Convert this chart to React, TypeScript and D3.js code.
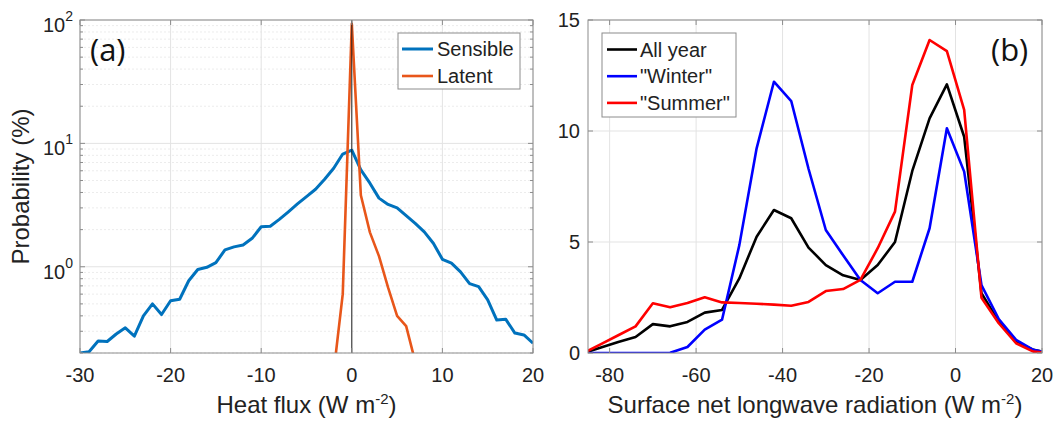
import React from "react";
import * as d3 from "d3";

// panel (a): heat flux probability (log scale)
const sensibleX = [-30, -29, -28, -27, -26, -25, -24, -23, -22, -21, -20, -19, -18, -17, -16, -15, -14, -13, -12, -11, -10, -9, -8, -7, -6, -5, -4, -3, -2, -1, 0, 1, 2, 3, 4, 5, 6, 7, 8, 9, 10, 11, 12, 13, 14, 15, 16, 17, 18, 19, 20];
const sensibleP = [0.2, 0.205, 0.25, 0.248, 0.285, 0.32, 0.274, 0.4, 0.5, 0.41, 0.53, 0.545, 0.77, 0.95, 0.99, 1.08, 1.37, 1.45, 1.5, 1.7, 2.11, 2.13, 2.42, 2.79, 3.23, 3.7, 4.25, 5.12, 6.28, 8.2, 8.8, 6.1, 4.76, 3.6, 3.2, 3.0, 2.6, 2.25, 1.92, 1.55, 1.15, 1.07, 0.91, 0.73, 0.69, 0.54, 0.37, 0.375, 0.29, 0.28, 0.24];
const latentX = [-2, -1, 0, 1, 2, 3, 4, 5, 6, 7];
const latentP = [0.14, 0.6, 93, 3.8, 1.9, 1.22, 0.68, 0.4, 0.33, 0.17];
const fluxTicks = [-30, -20, -10, 0, 10, 20];
const probDecades = [0, 1, 2];

// panel (b): surface net longwave radiation
const lwX = [-86, -82, -78, -74, -70, -66, -62, -58, -54, -50, -46, -42, -38, -34, -30, -26, -22, -18, -14, -10, -6, -2, 2, 6, 10, 14, 18, 22];
const allYear = [0, 0.25, 0.5, 0.72, 1.3, 1.2, 1.4, 1.82, 1.94, 3.36, 5.24, 6.44, 6.07, 4.75, 3.96, 3.5, 3.29, 3.96, 5.0, 8.2, 10.57, 12.1, 9.74, 2.69, 1.41, 0.51, 0.14, 0];
const winter = [0, 0, 0, 0, 0, 0.01, 0.27, 1.05, 1.5, 4.86, 9.22, 12.22, 11.35, 8.3, 5.54, 4.4, 3.29, 2.69, 3.21, 3.21, 5.62, 10.12, 8.17, 3.06, 1.53, 0.59, 0.14, 0];
const summer = [0, 0.4, 0.8, 1.2, 2.24, 2.06, 2.25, 2.51, 2.28, 2.25, 2.22, 2.18, 2.13, 2.3, 2.79, 2.88, 3.29, 4.72, 6.37, 12.07, 14.1, 13.6, 10.95, 2.49, 1.34, 0.44, 0.06, 0];
const lwTicks = [-80, -60, -40, -20, 0, 20];
const pctTicks = [0, 5, 10, 15];

const FONT = "'Liberation Sans', Arial, sans-serif";
const AXIS = "#8c8c8c";
const GRID = "#e3e3e3";

const PanelA = () => {
  const left = 80, right = 533, top = 20, bottom = 353;
  const x = d3.scaleLinear().domain([-30, 20]).range([left, right]);
  const y = d3.scaleLog().domain([0.2, 100]).range([bottom, top]);

  const minors: number[] = [];
  [0.1, 1, 10].forEach((dec) => {
    for (let k = 2; k <= 9; k++) {
      const v = k * dec;
      if (v >= 0.2 && v < 100) minors.push(v);
    }
  });

  const sensPath = d3.line<number>().x((d) => x(d)).y((d, i) => y(sensibleP[i]))(sensibleX);
  const latPath = d3.line<number>().x((d) => x(d)).y((d, i) => y(latentP[i]))(latentX);

  return (
    <g>
      <defs>
        <clipPath id="clipA">
          <rect x={left} y={top} width={right - left} height={bottom - top} />
        </clipPath>
      </defs>
      <rect x={left} y={top} width={right - left} height={bottom - top} fill="#fff" />
      {minors.map((v) => (
        <line key={"mg" + v} x1={left} x2={right} y1={y(v)} y2={y(v)} stroke="#ececec" strokeDasharray="2,2" />
      ))}
      {probDecades.map((p) => (
        <line key={"gy" + p} x1={left} x2={right} y1={y(10 ** p)} y2={y(10 ** p)} stroke={GRID} />
      ))}
      {fluxTicks.map((t) => (
        <line key={"gx" + t} x1={x(t)} x2={x(t)} y1={top} y2={bottom} stroke={GRID} />
      ))}
      <g clipPath="url(#clipA)">
        <path d={sensPath || ""} fill="none" stroke="#0072BD" strokeWidth={3} strokeLinejoin="round" />
        <path d={latPath || ""} fill="none" stroke="#E8561A" strokeWidth={2.6} strokeLinejoin="round" />
      </g>
      <line x1={x(0)} x2={x(0)} y1={top} y2={bottom} stroke="#222" strokeWidth={1} />
      <rect x={left} y={top} width={right - left} height={bottom - top} fill="none" stroke={AXIS} />
      {fluxTicks.map((t) => (
        <g key={"tx" + t}>
          <line x1={x(t)} x2={x(t)} y1={bottom} y2={bottom - 5} stroke={AXIS} />
          <line x1={x(t)} x2={x(t)} y1={top} y2={top + 5} stroke={AXIS} />
          <text x={x(t)} y={382} textAnchor="middle" fontSize={20} fontFamily={FONT} fill="#222">{t}</text>
        </g>
      ))}
      {minors.map((v) => (
        <g key={"mt" + v}>
          <line x1={left} x2={left + 3} y1={y(v)} y2={y(v)} stroke={AXIS} />
          <line x1={right} x2={right - 3} y1={y(v)} y2={y(v)} stroke={AXIS} />
        </g>
      ))}
      {probDecades.map((p) => (
        <g key={"ty" + p}>
          <line x1={left} x2={left + 5} y1={y(10 ** p)} y2={y(10 ** p)} stroke={AXIS} />
          <line x1={right} x2={right - 5} y1={y(10 ** p)} y2={y(10 ** p)} stroke={AXIS} />
          <text x={73} y={y(10 ** p) + 12} textAnchor="end" fontSize={20} fontFamily={FONT} fill="#222">
            10<tspan dy={-11} fontSize={14}>{p}</tspan>
          </text>
        </g>
      ))}
      {/* legend */}
      <rect x={398} y={33} width={122} height={56} fill="#fff" stroke={AXIS} />
      <line x1={402} x2={433} y1={49} y2={49} stroke="#0072BD" strokeWidth={3} />
      <text x={437} y={56} fontSize={20} fontFamily={FONT} fill="#222">Sensible</text>
      <line x1={402} x2={433} y1={76} y2={76} stroke="#E8561A" strokeWidth={2.6} />
      <text x={437} y={83} fontSize={20} fontFamily={FONT} fill="#222">Latent</text>
      <text x={90} y={61} fontSize={31} fontFamily="'Open Sans', sans-serif" fill="#111">(a)</text>
      <text x={(left + right) / 2} y={413} textAnchor="middle" fontSize={24} fontFamily={FONT} fill="#222">
        Heat flux (W m<tspan dy={-9} fontSize={15}>-2</tspan><tspan dy={9}>)</tspan>
      </text>
      <text transform={`translate(29,${(top + bottom) / 2}) rotate(-90)`} textAnchor="middle" fontSize={24} fontFamily={FONT} fill="#222">
        Probability (%)
      </text>
    </g>
  );
};

const PanelB = () => {
  const left = 588, right = 1042, top = 20, bottom = 353;
  const x = d3.scaleLinear().domain([-85, 20]).range([left, right]);
  const y = d3.scaleLinear().domain([0, 15]).range([bottom, top]);
  const series = [
    { name: "All year", values: allYear, color: "#000000" },
    { name: "\"Winter\"", values: winter, color: "#0000FF" },
    { name: "\"Summer\"", values: summer, color: "#FF0000" },
  ];

  return (
    <g>
      <defs>
        <clipPath id="clipB">
          <rect x={left} y={top} width={right - left} height={bottom - top} />
        </clipPath>
      </defs>
      <rect x={left} y={top} width={right - left} height={bottom - top} fill="#fff" />
      {pctTicks.map((t) => (
        <line key={"gy" + t} x1={left} x2={right} y1={y(t)} y2={y(t)} stroke={GRID} />
      ))}
      {lwTicks.map((t) => (
        <line key={"gx" + t} x1={x(t)} x2={x(t)} y1={top} y2={bottom} stroke={GRID} />
      ))}
      <g clipPath="url(#clipB)">
        {series.map((s) => {
          const d = d3.line<number>().x((v) => x(v)).y((v, i) => y(s.values[i]))(lwX);
          return <path key={s.name} d={d || ""} fill="none" stroke={s.color} strokeWidth={2.6} strokeLinejoin="round" />;
        })}
      </g>
      <rect x={left} y={top} width={right - left} height={bottom - top} fill="none" stroke={AXIS} />
      {lwTicks.map((t) => (
        <g key={"tx" + t}>
          <line x1={x(t)} x2={x(t)} y1={bottom} y2={bottom - 5} stroke={AXIS} />
          <line x1={x(t)} x2={x(t)} y1={top} y2={top + 5} stroke={AXIS} />
          <text x={x(t)} y={382} textAnchor="middle" fontSize={20} fontFamily={FONT} fill="#222">{t}</text>
        </g>
      ))}
      {pctTicks.map((t) => (
        <g key={"ty" + t}>
          <line x1={left} x2={left + 5} y1={y(t)} y2={y(t)} stroke={AXIS} />
          <line x1={right} x2={right - 5} y1={y(t)} y2={y(t)} stroke={AXIS} />
          <text x={580} y={y(t) + 7} textAnchor="end" fontSize={20} fontFamily={FONT} fill="#222">{t}</text>
        </g>
      ))}
      {/* legend */}
      <rect x={602} y={33} width={134} height={84} fill="#fff" stroke={AXIS} />
      {series.map((s, i) => (
        <g key={"lg" + s.name}>
          <line x1={607} x2={637} y1={49.5 + i * 26.7} y2={49.5 + i * 26.7} stroke={s.color} strokeWidth={2.6} />
          <text x={640} y={56.5 + i * 26.7} fontSize={20} fontFamily={FONT} fill="#222">{s.name}</text>
        </g>
      ))}
      <text x={991} y={61} fontSize={31} fontFamily="'Open Sans', sans-serif" fill="#111">(b)</text>
      <text x={(left + right) / 2} y={413} textAnchor="middle" fontSize={24} fontFamily={FONT} fill="#222">
        Surface net longwave radiation (W m<tspan dy={-9} fontSize={15}>-2</tspan><tspan dy={9}>)</tspan>
      </text>
    </g>
  );
};

export default function App() {
  return (
    <svg width={1057} height={426} style={{ position: "absolute", left: 0, top: 0, background: "#fff" }}>
      <rect width={1057} height={426} fill="#fff" />
      <PanelA />
      <PanelB />
    </svg>
  );
}
